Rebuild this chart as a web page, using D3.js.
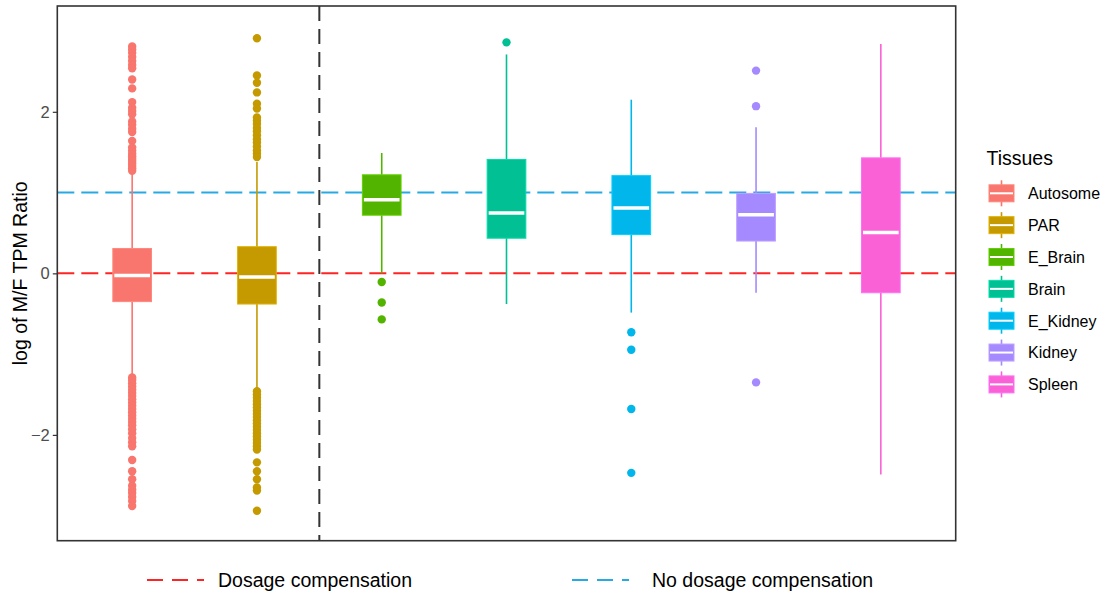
<!DOCTYPE html>
<html>
<head>
<meta charset="utf-8">
<script src="https://cdn.jsdelivr.net/npm/d3@7"></script>
<style>
  html, body { margin: 0; padding: 0; background: #fff; }
  svg { display: block; font-family: "Liberation Sans", Arial, sans-serif; }
</style>
</head>
<body>
<svg id="chart" width="1106" height="594"></svg>
<script>
// Tissue groups and their box-plot summaries (log M/F TPM ratio)
const categories = ["Autosome", "PAR", "E_Brain", "Brain", "E_Kidney", "Kidney", "Spleen"];
const colors     = ["#F8766D", "#C49A00", "#53B400", "#00C094", "#00B6EB", "#A58AFF", "#FB61D7"];
const q1         = [-0.35, -0.38, 0.72, 0.435, 0.48, 0.40, -0.24];
const medians    = [-0.027, -0.045, 0.91, 0.747, 0.81, 0.727, 0.506];
const q3         = [0.308, 0.33, 1.22, 1.41, 1.21, 0.99, 1.43];
const whiskerLow = [-1.27, -1.42, 0.0, -0.38, -0.486, -0.24, -2.49];
const whiskerHigh= [1.23, 1.38, 1.49, 2.71, 2.15, 1.81, 2.84];
const outliers = [
  [2.81, 2.77, 2.73, 2.68, 2.63, 2.58, 2.54, 2.40, 2.29, 2.12, 2.05, 2.01, 1.97, 1.88, 1.84, 1.79,
   1.75, 1.64, 1.56, 1.52, 1.48, 1.45, 1.42, 1.39, 1.36, 1.33, 1.30, 1.27,
   -1.29, -1.32, -1.36, -1.40, -1.44, -1.48, -1.52, -1.56, -1.60, -1.64, -1.68, -1.72, -1.76,
   -1.80, -1.84, -1.88, -1.93, -1.98, -2.04, -2.09, -2.14, -2.31, -2.45, -2.55, -2.63, -2.68,
   -2.72, -2.77, -2.82, -2.88],
  [2.91, 2.45, 2.36, 2.24, 2.10, 2.04, 1.93, 1.89, 1.85, 1.80, 1.76, 1.71, 1.66, 1.62, 1.57,
   1.52, 1.48, 1.44,
   -1.46, -1.50, -1.54, -1.58, -1.62, -1.66, -1.70, -1.74, -1.78, -1.82, -1.86, -1.90, -1.94,
   -1.98, -2.02, -2.06, -2.10, -2.14, -2.18, -2.34, -2.45, -2.55, -2.65, -2.69, -2.94],
  [-0.107, -0.36, -0.57],
  [2.86],
  [-0.73, -0.946, -1.68, -2.47],
  [2.51, 2.07, -1.35],
  []
];
const yTicks = [-2, 0, 2];
const refLines = [
  { value: 0, label: "Dosage compensation", color: "#FF2424" },
  { value: 1, label: "No dosage compensation", color: "#27A9E3" }
];

const svg = d3.select("#chart");
const panel = { left: 57.3, right: 955.7, top: 6, bottom: 540.7 };

// Discrete positions 1..7 with ggplot-style padding
const x = d3.scaleLinear().domain([0.4, categories.length + 0.6]).range([panel.left, panel.right]);
const y = d3.scaleLinear().domain([-3.31, 3.31]).range([panel.bottom, panel.top]);
const boxW = x(1.31) - x(1);

const g = svg.append("g");

// Reference lines
refLines.forEach(r => {
  g.append("line")
    .attr("x1", panel.left).attr("x2", panel.right)
    .attr("y1", y(r.value)).attr("y2", y(r.value))
    .attr("stroke", r.color).attr("stroke-width", 2)
    .attr("stroke-dasharray", "17,7");
});

// Separator between genomic and tissue groups
g.append("line")
  .attr("x1", x(2.5)).attr("x2", x(2.5))
  .attr("y1", panel.top).attr("y2", panel.bottom)
  .attr("stroke", "#333").attr("stroke-width", 2)
  .attr("stroke-dasharray", "15,8");

// Boxes
categories.forEach((c, i) => {
  const cx = x(i + 1);
  const col = colors[i];
  const bg = g.append("g");
  bg.append("line")
    .attr("x1", cx).attr("x2", cx)
    .attr("y1", y(whiskerHigh[i])).attr("y2", y(q3[i]))
    .attr("stroke", col).attr("stroke-width", 1.6);
  bg.append("line")
    .attr("x1", cx).attr("x2", cx)
    .attr("y1", y(q1[i])).attr("y2", y(whiskerLow[i]))
    .attr("stroke", col).attr("stroke-width", 1.6);
  bg.append("rect")
    .attr("x", cx - boxW / 2).attr("width", boxW)
    .attr("y", y(q3[i])).attr("height", y(q1[i]) - y(q3[i]))
    .attr("fill", col)
    .attr("stroke", d3.color(col).brighter(0.4)).attr("stroke-width", 1);
  bg.append("line")
    .attr("x1", cx - boxW / 2 + 1.5).attr("x2", cx + boxW / 2 - 1.5)
    .attr("y1", y(medians[i])).attr("y2", y(medians[i]))
    .attr("stroke", "#fff").attr("stroke-width", 3.5);
  bg.selectAll("circle").data(outliers[i]).enter().append("circle")
    .attr("cx", cx).attr("cy", d => y(d)).attr("r", 4.2)
    .attr("fill", col);
});

// Panel border
svg.append("rect")
  .attr("x", panel.left).attr("y", panel.top)
  .attr("width", panel.right - panel.left).attr("height", panel.bottom - panel.top)
  .attr("fill", "none").attr("stroke", "#333").attr("stroke-width", 1.6);

// Y axis
const yAxis = svg.append("g")
  .attr("transform", `translate(${panel.left},0)`)
  .call(d3.axisLeft(y).tickValues(yTicks).tickSize(4.5).tickPadding(3)
        .tickFormat(d => d < 0 ? "\u2212" + Math.abs(d) : d));
yAxis.select(".domain").remove();
yAxis.selectAll(".tick line").attr("stroke", "#333").attr("stroke-width", 1.2);
yAxis.selectAll(".tick text")
  .attr("fill", "#4D4D4D").style("font-size", "16.5px")
  .style("font-family", "'Liberation Sans', Arial, sans-serif");

svg.append("text")
  .attr("transform", `translate(27,${(panel.top + panel.bottom) / 2}) rotate(-90)`)
  .attr("text-anchor", "middle")
  .style("font-size", "19.5px").attr("fill", "#000")
  .text("log of M/F TPM Ratio");

// Fill legend
const leg = svg.append("g");
leg.append("text").attr("x", 986.5).attr("y", 165)
  .style("font-size", "19.5px").attr("fill", "#000").text("Tissues");
const legY0 = 193.3, legStep = 31.85, keyX = 1001.5, keyW = 25, keyH = 17;
categories.forEach((c, i) => {
  const cy = legY0 + i * legStep;
  const col = colors[i];
  leg.append("line")
    .attr("x1", keyX).attr("x2", keyX)
    .attr("y1", cy - 13).attr("y2", cy + 13)
    .attr("stroke", col).attr("stroke-width", 1.6);
  leg.append("rect")
    .attr("x", keyX - keyW / 2).attr("y", cy - keyH / 2)
    .attr("width", keyW).attr("height", keyH)
    .attr("fill", col).attr("stroke", d3.color(col).brighter(0.4)).attr("stroke-width", 1);
  leg.append("line")
    .attr("x1", keyX - keyW / 2 + 1).attr("x2", keyX + keyW / 2 - 1)
    .attr("y1", cy).attr("y2", cy)
    .attr("stroke", "#fff").attr("stroke-width", 2);
  leg.append("text").attr("x", 1028).attr("y", cy + 5.8)
    .style("font-size", "16px").attr("fill", "#000").text(c);
});

// Line-type legend at the bottom
const bottomItems = [
  { ref: refLines[0], x0: 147, textX: 218 },
  { ref: refLines[1], x0: 572, textX: 652 }
];
bottomItems.forEach(b => {
  svg.append("line")
    .attr("x1", b.x0).attr("x2", b.x0 + 57)
    .attr("y1", 580).attr("y2", 580)
    .attr("stroke", b.ref.color).attr("stroke-width", 2.2)
    .attr("stroke-dasharray", "16,9");
  svg.append("text").attr("x", b.textX).attr("y", 587)
    .style("font-size", "19.5px").attr("fill", "#000").text(b.ref.label);
});
</script>
</body>
</html>
